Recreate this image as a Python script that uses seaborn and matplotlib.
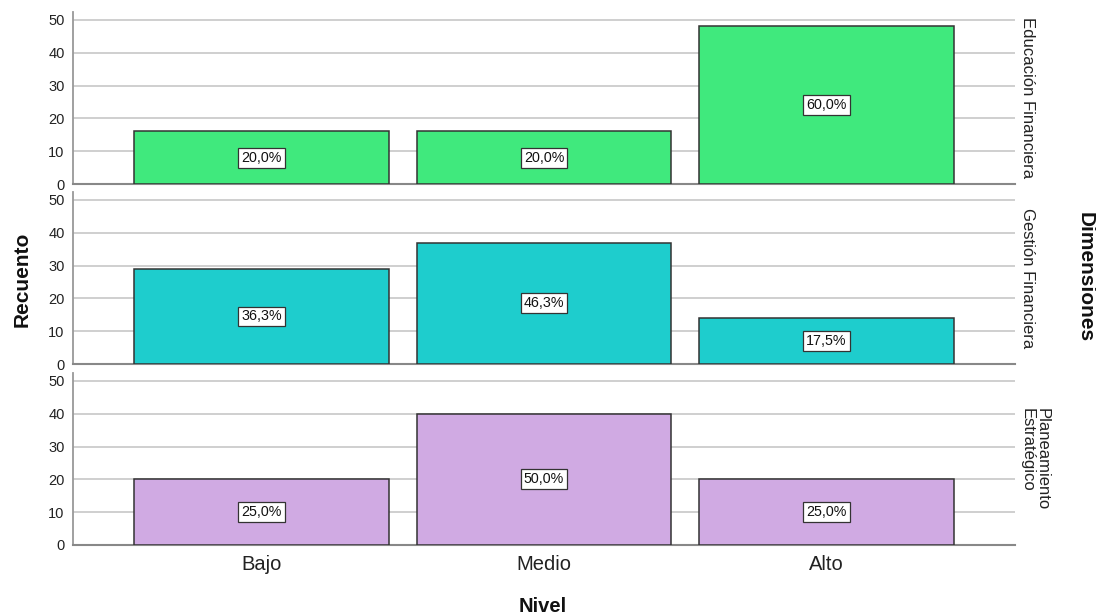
import math
import matplotlib
matplotlib.use("Agg")
import matplotlib.pyplot as plt
import seaborn as sns
import pandas as pd

sns.set_theme(style="white")
plt.rcParams["font.family"] = ["Liberation Sans", "DejaVu Sans"]

niveles = ["Bajo", "Medio", "Alto"]
dimensiones = ["Educación Financiera", "Gestión Financiera", "Planeamiento Estratégico"]
etiquetas_fila = ["Educación Financiera", "Gestión Financiera", "Planeamiento\nEstratégico"]
educacion = [16, 16, 48]
gestion = [29, 37, 14]
planeamiento = [20, 40, 20]
colores = ["#40E97D", "#1ECDCD", "#D0AAE3"]

conteos = [educacion, gestion, planeamiento]

W, H = 1096, 616
fig = plt.figure(figsize=(W / 100, H / 100), dpi=100)

left, right = 73 / W, 1015 / W
paneles = [(12, 184), (192, 364), (373, 545)]

def pct_label(n, total):
    p = math.floor(n / total * 1000 + 0.5) / 10
    return f"{p:.1f}".replace(".", ",") + "%"

for i, (dim, vals, col, (top, bot)) in enumerate(zip(dimensiones, conteos, colores, paneles)):
    ax = fig.add_axes([left, 1 - bot / H, right - left, (bot - top) / H])
    df = pd.DataFrame({"Nivel": niveles, "Recuento": vals})
    sns.barplot(data=df, x="Nivel", y="Recuento", color=col, width=0.9,
                edgecolor="#333333", linewidth=1.1, saturation=1, ax=ax, zorder=3)
    ax.set_ylim(0, 52.4)
    ax.set_xlim(-0.667, 2.667)
    ax.set_yticks([0, 10, 20, 30, 40, 50])
    ax.yaxis.grid(True, color="#cccccc", linewidth=1.3, zorder=0)
    ax.set_axisbelow(True)
    for s in ["top", "right"]:
        ax.spines[s].set_visible(False)
    ax.spines["left"].set_color("#999999")
    ax.spines["bottom"].set_color("#888888")
    ax.spines["left"].set_linewidth(1.3)
    ax.spines["bottom"].set_linewidth(1.5)
    ax.tick_params(axis="y", length=0, labelsize=10.5, pad=6, colors="#222222")
    ax.set_ylabel("")
    ax.set_xlabel("")
    total = sum(vals)
    for bar, v in zip(ax.patches, vals):
        cx = bar.get_x() + bar.get_width() / 2
        ax.text(cx, v / 2, pct_label(v, total), ha="center", va="center", fontsize=10.3,
                color="#111111", zorder=5,
                bbox=dict(boxstyle="square,pad=0.2", facecolor="white",
                          edgecolor="#333333", linewidth=0.9))
    if i < 2:
        ax.tick_params(axis="x", length=0, labelbottom=False)
    else:
        ax.tick_params(axis="x", length=0, labelsize=14.5, pad=7, colors="#222222")
    ax.text(1.005, 0.5, etiquetas_fila[i], transform=ax.transAxes, rotation=-90,
            ha="left", va="center", fontsize=12, color="#222222", linespacing=1.0,
            multialignment="left")

fig.text(22 / W, 1 - 279 / H, "Recuento", rotation=90, ha="center", va="center",
         fontsize=15, fontweight="bold", color="#111111")
fig.text(543 / W, 1 - 606 / H, "Nivel", ha="center", va="center",
         fontsize=14.5, fontweight="bold", color="#111111")
fig.text(1085 / W, 1 - 277 / H, "Dimensiones", rotation=-90, ha="center", va="center",
         fontsize=15, fontweight="bold", color="#111111")

fig.savefig("out.png", dpi=100, facecolor="white")
